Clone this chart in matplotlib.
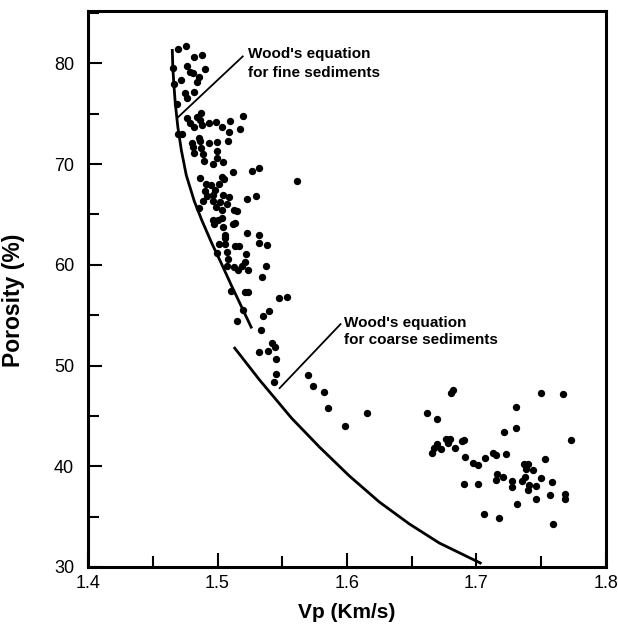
import numpy as np
import matplotlib
matplotlib.use('Agg')
from matplotlib import pyplot as plt
from matplotlib.ticker import MultipleLocator

plt.rcParams['font.family'] = ['Liberation Sans', 'DejaVu Sans']

# measured points (Vp in km/s, porosity in %)
vp = [1.4694, 1.4755, 1.4817, 1.4879, 1.4655, 1.4763, 1.4786, 1.4809, 1.4902, 1.4717,
      1.4855, 1.4840, 1.4663, 1.4817, 1.4748, 1.4763, 1.4686,
      1.4763, 1.4840, 1.4871, 1.4786, 1.4817, 1.4863, 1.4879, 1.4933, 1.4987, 1.5033,
      1.5094, 1.5195, 1.5171, 1.5087, 1.4694, 1.4724,
      1.4855, 1.4863, 1.5079, 1.4802, 1.4809, 1.4933, 1.4994, 1.4871, 1.4994, 1.4817,
      1.4886, 1.4994, 1.4894, 1.5040, 1.4963, 1.5118, 1.5264, 1.5318,
      1.4863, 1.5033, 1.5048, 1.4909, 1.4948, 1.5010, 1.4902, 1.4979, 1.4917, 1.4963,
      1.5040, 1.5087, 1.5225, 1.5295, 1.4886, 1.4963, 1.5017, 1.5071, 1.4855, 1.4987,
      1.5033, 1.5125, 1.5148, 1.5611,
      1.4963, 1.5002, 1.5033, 1.5133, 1.4971, 1.5040, 1.5118, 1.5056, 1.5056, 1.5225,
      1.5318, 1.5010, 1.5056, 1.5133, 1.5164, 1.5318, 1.5380, 1.4994, 1.5071, 1.5218,
      1.5079, 1.5210,
      1.5071, 1.5125, 1.5156, 1.5187, 1.5233, 1.5372, 1.5341, 1.5102, 1.5210, 1.5233,
      1.5472, 1.5534, 1.5195, 1.5395, 1.5349, 1.5148, 1.5333,
      1.5418, 1.5441, 1.5318, 1.5387, 1.5449, 1.5449, 1.5434, 1.5696, 1.5734, 1.5819,
      1.5850, 1.6158, 1.5988,
      1.6805, 1.6821, 1.6620, 1.6697, 1.7214, 1.6767, 1.6798, 1.6782, 1.6697, 1.6890,
      1.6906, 1.6674, 1.6728, 1.6836, 1.6659, 1.6913, 1.6975, 1.7013, 1.7067, 1.7129,
      1.7152, 1.7229, 1.6906, 1.7013, 1.7160, 1.7152, 1.7206, 1.7060, 1.7175,
      1.7499, 1.7669, 1.7306, 1.7306, 1.7730, 1.7530, 1.7368, 1.7399, 1.7383, 1.7437,
      1.7376, 1.7353, 1.7499, 1.7276, 1.7276, 1.7407, 1.7399, 1.7460, 1.7584, 1.7568,
      1.7684, 1.7684, 1.7460, 1.7314, 1.7592]
por = [81.39, 81.69, 80.60, 80.79, 79.50, 79.70, 79.11, 79.01, 79.40, 78.31,
       78.61, 78.12, 77.92, 77.12, 77.02, 76.53, 75.93,
       74.54, 74.64, 75.04, 74.05, 73.65, 74.35, 73.85, 74.05, 74.15, 73.65,
       74.25, 74.74, 73.45, 73.15, 72.96, 72.96,
       72.56, 72.26, 72.26, 72.06, 71.67, 72.06, 72.16, 71.57, 71.27, 71.07,
       70.97, 70.58, 70.28, 70.18, 69.98, 69.19, 69.29, 69.58,
       68.59, 68.69, 68.49, 68.00, 67.90, 68.00, 67.30, 67.40, 66.81, 66.90,
       66.90, 66.71, 66.51, 66.81, 66.31, 66.31, 66.21, 66.01, 65.62, 65.71,
       65.42, 65.42, 65.32, 68.29,
       64.42, 64.42, 64.62, 64.13, 64.03, 63.73, 64.03, 62.94, 62.64, 63.13,
       62.94, 62.04, 62.04, 61.85, 61.85, 62.14, 61.94, 61.15, 61.25, 61.05,
       60.56, 60.26,
       59.86, 59.76, 59.46, 59.86, 59.46, 59.86, 58.77, 57.38, 57.28, 57.28,
       56.69, 56.79, 55.50, 55.40, 54.90, 54.40, 53.51,
       52.22, 51.83, 51.33, 51.43, 50.63, 49.15, 48.35, 49.05, 47.96, 47.36,
       45.77, 45.28, 43.99,
       47.26, 47.56, 45.28, 44.68, 43.39, 42.70, 42.70, 42.30, 42.20, 42.50,
       42.60, 41.81, 41.71, 41.81, 41.31, 40.91, 40.32, 40.12, 40.81, 41.31,
       41.11, 41.21, 38.23, 38.23, 39.23, 38.63, 38.93, 35.26, 34.86,
       47.26, 47.16, 45.87, 43.79, 42.60, 40.71, 40.22, 40.22, 39.72, 39.62,
       38.93, 38.53, 38.83, 38.53, 37.94, 38.13, 37.64, 38.04, 38.43, 37.14,
       37.24, 36.75, 36.75, 36.25, 34.27]

fine_vp = [1.4651, 1.4655, 1.4663, 1.4674, 1.4694, 1.4721, 1.4759, 1.4821,
           1.4879, 1.4956, 1.5029, 1.5110, 1.5191, 1.5260]
fine_por = [81.29, 79.60, 77.92, 76.03, 73.65, 71.37, 68.89, 66.31,
            64.42, 62.14, 60.16, 57.88, 55.69, 53.81]
coarse_vp = [1.5133, 1.5326, 1.5572, 1.5788, 1.6019, 1.6250, 1.6482, 1.6713, 1.7029]
coarse_por = [51.73, 48.55, 44.78, 41.90, 39.03, 36.45, 34.27, 32.38, 30.40]

fig = plt.figure(figsize=(6.18, 6.27), dpi=100)
ax = fig.add_axes([88/618, 1-567/627, (606-88)/618, (567-11)/627])

ax.scatter(vp, por, s=28, c='black', linewidths=0, zorder=3)
ax.plot(fine_vp, fine_por, color='black', lw=2.0)
ax.plot(coarse_vp, coarse_por, color='black', lw=2.0)

# leader lines
ax.plot([1.4694, 1.5195], [74.64, 80.69], color='black', lw=1.3)
ax.plot([1.5480, 1.5950], [47.76, 54.11], color='black', lw=1.3)

ax.text(1.5237, 80.0, "Wood's equation\nfor fine sediments", fontsize=11,
        fontweight='bold', ha='left', va='center', linespacing=1.4)
ax.text(1.5977, 53.4, "Wood's equation\nfor coarse sediments", fontsize=11,
        fontweight='bold', ha='left', va='center', linespacing=1.25)

ax.set_xlim(1.4, 1.8)
ax.set_ylim(30, 85.2)
ax.xaxis.set_minor_locator(MultipleLocator(0.05))
ax.yaxis.set_major_locator(MultipleLocator(10))
ax.yaxis.set_minor_locator(MultipleLocator(5))
ax.set_xticks([1.4, 1.5, 1.6, 1.7, 1.8])
ax.set_xticklabels(['1.4', '1.5', '1.6', '1.7', '1.8'])
ax.tick_params(which='major', direction='in', length=10, width=1.5, labelsize=13,
               top=False, right=False)
ax.tick_params(which='minor', direction='in', length=8, width=1.5, top=False, right=False)
ax.tick_params(axis='y', pad=10)
ax.tick_params(axis='x', pad=6)
for sp in ax.spines.values():
    sp.set_linewidth(2.2)

ax.set_xlabel('Vp (Km/s)', fontsize=15, fontweight='bold', labelpad=8)
ax.set_ylabel('Porosity (%)', fontsize=16.5, fontweight='bold')
ax.yaxis.set_label_coords(-0.122, 0.48)

fig.savefig('out.png', dpi=100)
